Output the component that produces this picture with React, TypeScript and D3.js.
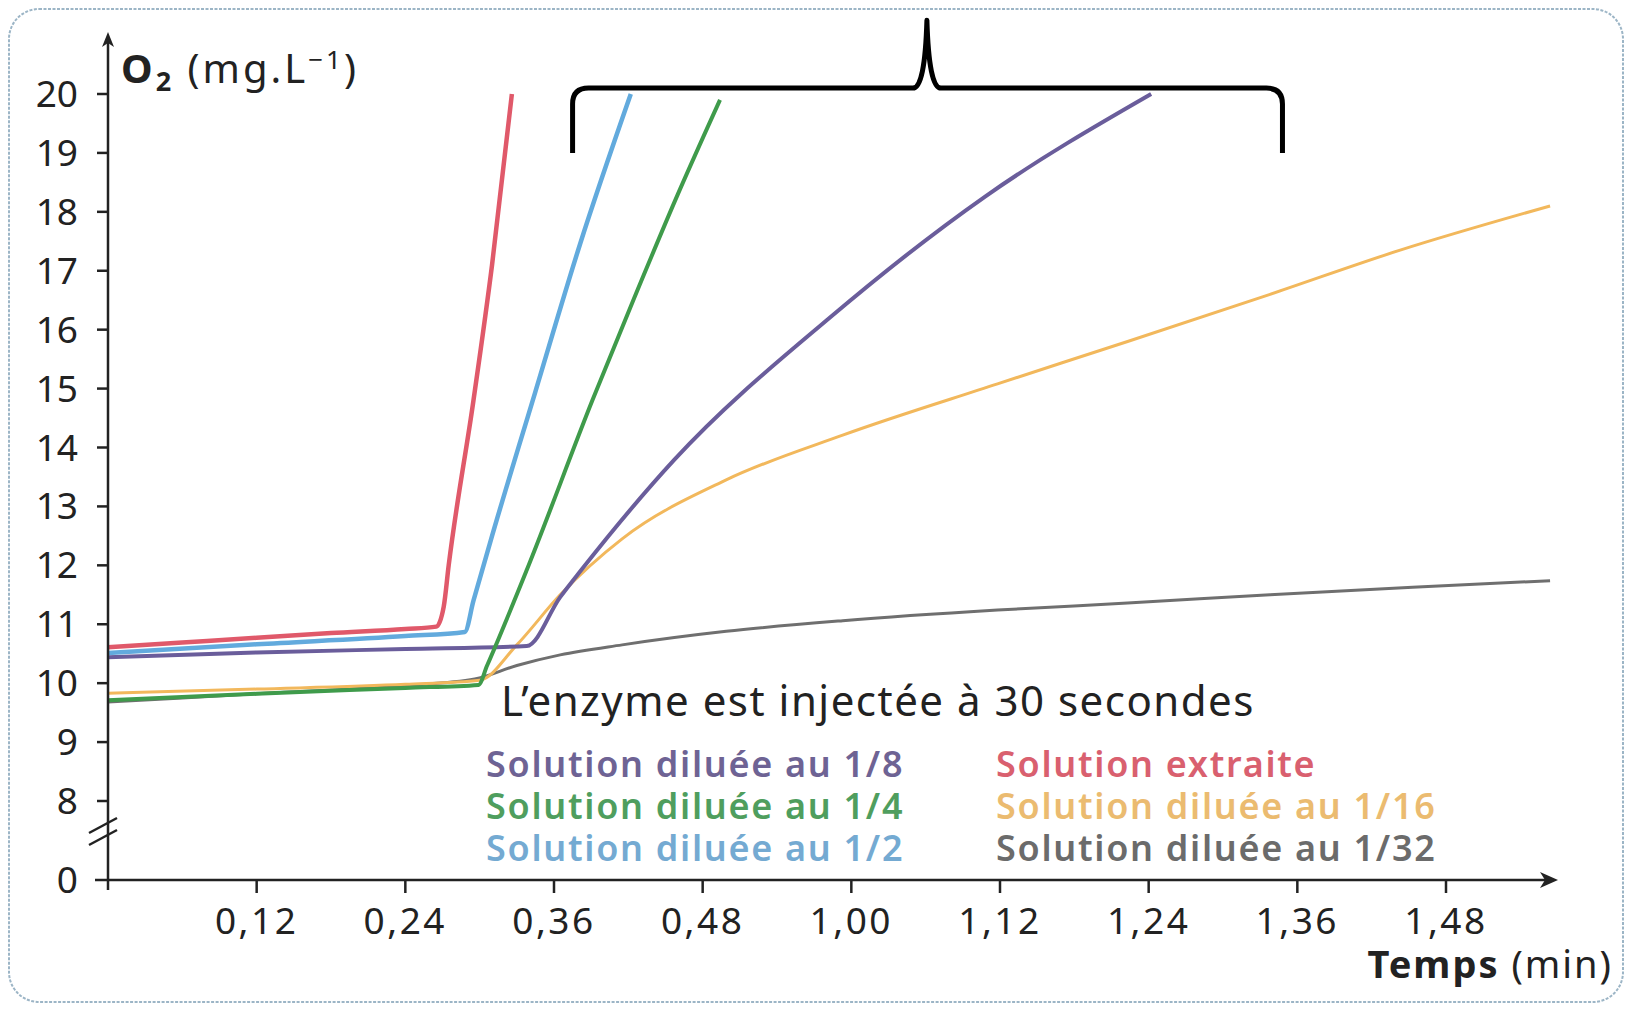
import React from "react";
import * as d3 from "d3";

// ---- Data (time in seconds, O2 in mg/L) ----
const xTickValues = [12, 24, 36, 48, 60, 72, 84, 96, 108];
const xTickLabels = ["0,12", "0,24", "0,36", "0,48", "1,00", "1,12", "1,24", "1,36", "1,48"];
const yTickValues = [0, 8, 9, 10, 11, 12, 13, 14, 15, 16, 17, 18, 19, 20];

const extraite: [number, number][] = [
  [0, 10.61], [6, 10.69], [12, 10.77], [18, 10.85], [24, 10.92], [26.5, 10.96],
  [27.1, 11.3], [27.5, 12.0], [29.5, 14.8], [31, 17.1], [32.6, 20],
];
const dil2: [number, number][] = [
  [0, 10.51], [12, 10.66], [24, 10.8], [28.8, 10.87], [29.5, 11.4], [31, 12.5],
  [34.5, 14.95], [38.1, 17.45], [42.2, 20],
];
const dil4: [number, number][] = [
  [0, 9.71], [12, 9.82], [24, 9.92], [29.9, 9.97], [30.6, 10.3], [33.8, 11.92],
  [39.1, 14.8], [42.4, 16.5], [46, 18.3], [49.4, 19.9],
];
const dil8: [number, number][] = [
  [0, 10.44], [12, 10.52], [24, 10.58], [33.8, 10.63], [36.5, 11.46], [38.2, 11.92],
  [45.7, 13.79], [58.3, 16.21], [70.8, 18.26], [84.2, 20],
];
const dil16: [number, number][] = [
  [0, 9.83], [12, 9.9], [24, 9.98], [30, 10.05], [33, 10.65], [36.5, 11.5],
  [41.5, 12.45], [49.9, 13.45], [59.3, 14.21], [71.8, 15.08], [82.3, 15.8],
  [93.8, 16.6], [104.3, 17.35], [116.4, 18.1],
];
const dil32: [number, number][] = [
  [0, 9.68], [12, 9.82], [24, 9.96], [29.6, 10.07], [33, 10.3], [36.5, 10.48],
  [41.5, 10.65], [49.9, 10.88], [59.3, 11.06], [71.8, 11.24], [82.3, 11.36],
  [93.8, 11.5], [105.3, 11.63], [116.4, 11.74],
];

const seriesNames = [
  "Solution diluée au 1/32",
  "Solution diluée au 1/16",
  "Solution diluée au 1/8",
  "Solution diluée au 1/4",
  "Solution diluée au 1/2",
  "Solution extraite",
];
const seriesData = [dil32, dil16, dil8, dil4, dil2, extraite];
const lineColors = ["#6f6f6f", "#f2b85c", "#6a5d9b", "#3f9b4b", "#62aadd", "#e0596a"];
const lineWidths = [3, 3, 4, 4, 4.5, 4.5];

const legendLeft = ["Solution diluée au 1/8", "Solution diluée au 1/4", "Solution diluée au 1/2"];
const legendLeftColors = ["#6e6394", "#4f9e5e", "#74aad2"];
const legendRight = ["Solution extraite", "Solution diluée au 1/16", "Solution diluée au 1/32"];
const legendRightColors = ["#d9606f", "#ebbb70", "#6b6b6b"];

// bracket annotation in data units
const bracketT = [37.5, 66.1, 94.8];
const bracketV = [19.0, 20.1, 21.25];

const FONT = "'Noto Sans', 'Open Sans', sans-serif";

export default function App() {
  const W = 1627, H = 1010;
  const x = d3.scaleLinear().domain([0, 108]).range([108, 1446]);
  const y = d3.scaleLinear().domain([0, 8, 20]).range([880, 801, 94]);
  const line = d3
    .line<[number, number]>()
    .x((d) => x(d[0]))
    .y((d) => y(d[1]))
    .curve(d3.curveMonotoneX);

  const axisX0 = x(0);
  const axisY0 = y(0);
  const arrowTipX = 1558;
  const arrowTipY = 32;

  const bl = x(bracketT[0]), bc = x(bracketT[1]), br = x(bracketT[2]);
  const bLow = y(bracketV[0]), bMid = y(bracketV[1]), bTop = y(bracketV[2]);
  const r = 16;
  const bracketPath = [
    `M${bl},${bLow}`,
    `L${bl},${bMid + r}`,
    `Q${bl},${bMid} ${bl + r},${bMid}`,
    `L${bc - 14},${bMid}`,
    `Q${bc - 2},${bMid} ${bc},${bTop}`,
    `Q${bc + 2},${bMid} ${bc + 14},${bMid}`,
    `L${br - r},${bMid}`,
    `Q${br},${bMid} ${br},${bMid + r}`,
    `L${br},${bLow}`,
  ].join(" ");

  return (
    <svg
      width={W}
      height={H}
      style={{ position: "absolute", left: 0, top: 0, background: "#fff" }}
      fontFamily={FONT}
    >
      <rect x={9} y={9} width={1614} height={993} rx={30} ry={30} fill="#fff"
        stroke="#9cb5c6" strokeWidth={2} strokeDasharray="3 1.5" />

      {/* series lines */}
      {seriesData.map((d, i) => (
        <path key={seriesNames[i]} d={line(d) || ""} fill="none" stroke={lineColors[i]}
          strokeWidth={lineWidths[i]} strokeLinejoin="round" strokeLinecap="butt" />
      ))}

      {/* axes */}
      <line x1={axisX0} y1={890} x2={axisX0} y2={arrowTipY + 8} stroke="#222" strokeWidth={2.5} />
      <path d={`M${axisX0},${arrowTipY} L${axisX0 + 6},${arrowTipY + 15} L${axisX0},${arrowTipY + 11} L${axisX0 - 6},${arrowTipY + 15} Z`} fill="#222" />
      <line x1={95} y1={axisY0} x2={arrowTipX - 8} y2={axisY0} stroke="#222" strokeWidth={2.5} />
      <path d={`M${arrowTipX},${axisY0} L${arrowTipX - 18},${axisY0 - 8} L${arrowTipX - 13},${axisY0} L${arrowTipX - 18},${axisY0 + 8} Z`} fill="#222" />

      {/* axis break */}
      <line x1={89} y1={833} x2={117} y2={818} stroke="#222" strokeWidth={2.5} />
      <line x1={89} y1={845} x2={117} y2={830} stroke="#222" strokeWidth={2.5} />

      {/* y ticks */}
      {yTickValues.map((v) => (
        <g key={"y" + v}>
          {v !== 0 && <line x1={97} x2={axisX0} y1={y(v)} y2={y(v)} stroke="#222" strokeWidth={2.5} />}
          <text x={78} y={y(v) + 13} textAnchor="end" fontSize={37} fill="#222">{v}</text>
        </g>
      ))}

      {/* x ticks */}
      {xTickValues.map((t, i) => (
        <g key={"x" + t}>
          <line x1={x(t)} x2={x(t)} y1={axisY0} y2={axisY0 + 13} stroke="#222" strokeWidth={2.5} />
          <text x={x(t)} y={934} textAnchor="middle" fontSize={37} letterSpacing={2.5} fill="#222">{xTickLabels[i]}</text>
        </g>
      ))}

      {/* axis titles */}
      <text x={121} y={83} fontSize={40} letterSpacing={3} fill="#222">
        <tspan fontWeight={700}>O</tspan>
        <tspan fontWeight={700} fontSize={27} dy={8}>2</tspan>
        <tspan dy={-8}> (mg.L</tspan>
        <tspan fontSize={26} dy={-14}>−1</tspan>
        <tspan dy={14}>)</tspan>
      </text>
      <text x={1613} y={978} textAnchor="end" fontSize={38} letterSpacing={2} fill="#222">
        <tspan fontWeight={700}>Temps</tspan>
        <tspan> (min)</tspan>
      </text>

      {/* annotation */}
      <text x={501} y={716} fontSize={42} letterSpacing={1.5} fill="#222">L’enzyme est injectée à 30 secondes</text>

      {/* legend */}
      {legendLeft.map((s, i) => (
        <text key={s} x={486} y={777 + i * 42} fontSize={36} fontWeight={600} letterSpacing={1.7} fill={legendLeftColors[i]}>{s}</text>
      ))}
      {legendRight.map((s, i) => (
        <text key={s} x={996} y={777 + i * 42} fontSize={36} fontWeight={600} letterSpacing={1.7} fill={legendRightColors[i]}>{s}</text>
      ))}

      {/* bracket */}
      <path d={bracketPath} fill="none" stroke="#000" strokeWidth={5} strokeLinejoin="round" />
    </svg>
  );
}
